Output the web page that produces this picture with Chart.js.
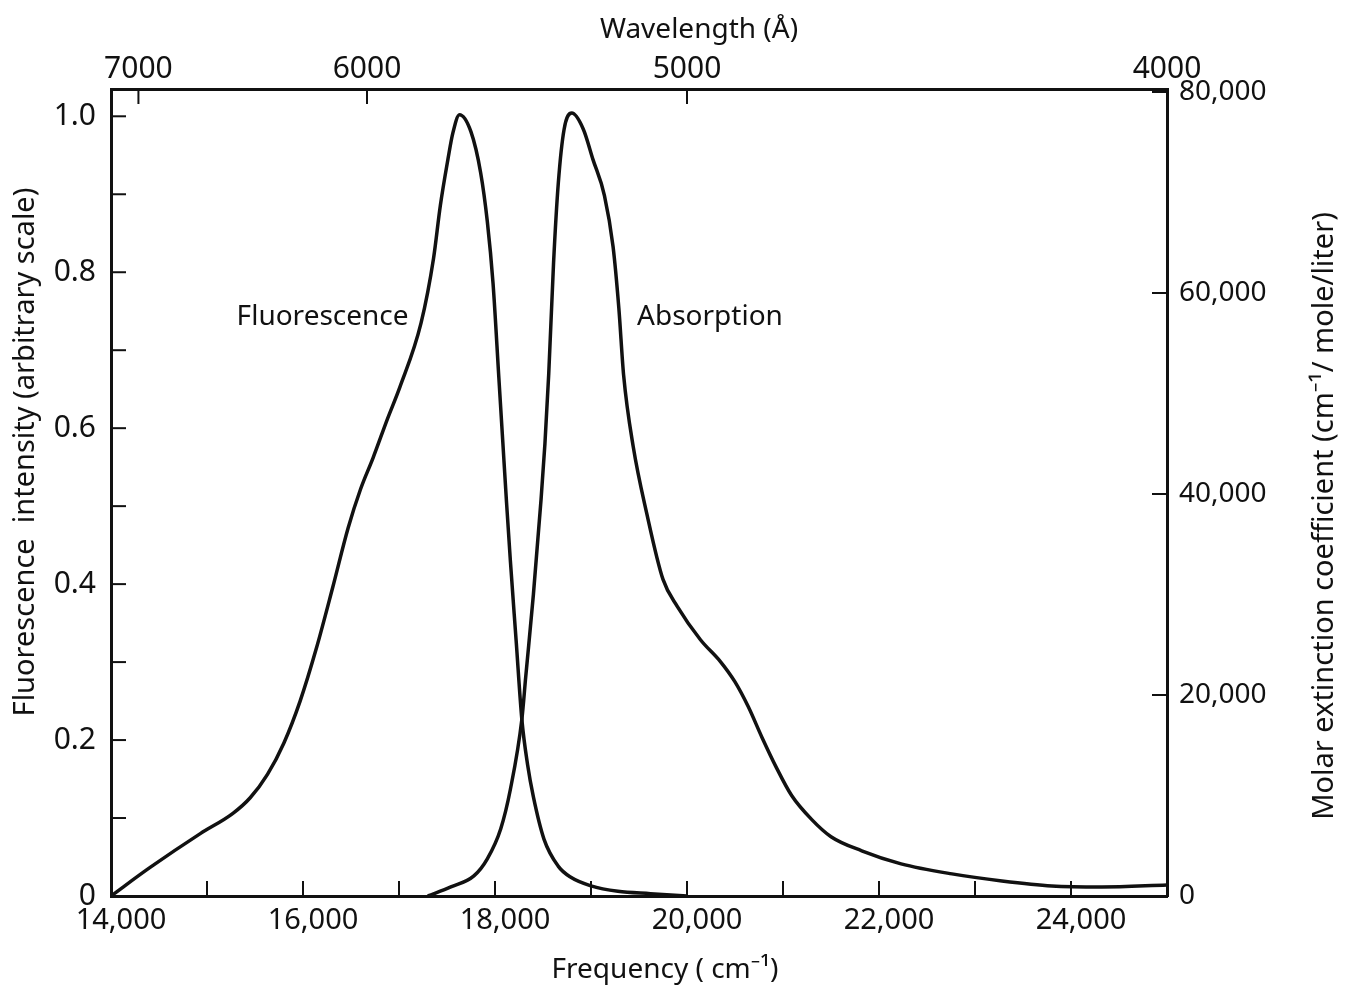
<!DOCTYPE html>
<html>
<head>
<meta charset="utf-8">
<script src="https://cdn.jsdelivr.net/npm/chart.js@4.4.1/dist/chart.umd.min.js"></script>
<style>
  html, body { margin: 0; padding: 0; background: #fff; }
</style>
</head>
<body>
<canvas id="spectraChart" width="1345" height="991"></canvas>
<script>
  // frequency (cm-1) and relative fluorescence intensity
  const fluorFreq = [14000, 14400, 14930, 15270, 15450, 15630, 15800, 15970, 16140, 16310,
    16470, 16600, 16730, 16880, 17010, 17230, 17360, 17430, 17510, 17560,
    17630, 17750, 17850, 17920, 17980, 18040, 18080, 18120, 18160, 18220,
    18280, 18340, 18400, 18510, 18660, 18790, 19000, 19280, 19620, 20000];
  const fluorValues = [0, 0.036, 0.080, 0.106, 0.126, 0.156, 0.196, 0.250, 0.318, 0.396,
    0.472, 0.522, 0.562, 0.612, 0.653, 0.735, 0.818, 0.885, 0.945, 0.978,
    1.002, 0.980, 0.928, 0.865, 0.785, 0.665, 0.585, 0.505, 0.430, 0.328,
    0.226, 0.168, 0.127, 0.073, 0.038, 0.024, 0.013, 0.006, 0.003, 0];

  // frequency (cm-1) and molar extinction coefficient
  const absFreq = [17300, 17540, 17780, 17920, 18060, 18160, 18280, 18320, 18400, 18480,
    18520, 18560, 18610, 18660, 18720, 18800, 18920, 19020, 19140, 19230,
    19290, 19340, 19440, 19580, 19750, 19900, 20140, 20350, 20500, 20640,
    20780, 20930, 21090, 21300, 21500, 21820, 22230, 22760, 23280, 23800, 24320, 25000];
  const absValues = [0, 900, 2000, 3700, 6700, 10600, 17600, 21800, 30000, 39500,
    45000, 52000, 63000, 71000, 76300, 77900, 76300, 73300, 69700, 64600,
    58500, 51800, 44700, 38100, 31500, 28800, 25500, 23300, 21300, 18800,
    15800, 12800, 10000, 7600, 5900, 4500, 3200, 2200, 1500, 1000, 900, 1100];

  const freqTicks = [14000, 15000, 16000, 17000, 18000, 19000, 20000, 21000, 22000, 23000, 24000];
  const wavelengthTicks = [7000, 6000, 5000, 4000];
  const fluorTicks = [0, 0.1, 0.2, 0.3, 0.4, 0.5, 0.6, 0.7, 0.8, 0.9, 1.0];
  const extTicks = [0, 20000, 40000, 60000, 80000];

  const FONT = '"Noto Sans", "DejaVu Sans", sans-serif';
  const INK = '#111';

  const toPoints = (xs, ys) => xs.map((x, i) => ({x: x, y: ys[i]}));

  // ticks in the original point into the plot, so draw them ourselves
  const inwardTicks = {
    id: 'inwardTicks',
    afterDatasetsDraw(chart) {
      const ctx = chart.ctx;
      const len = 15;
      ctx.save();
      ctx.strokeStyle = INK;
      ctx.lineWidth = 2;
      ['x', 'x2', 'y', 'y2'].forEach(id => {
        const s = chart.scales[id];
        s.ticks.forEach(t => {
          const p = s.getPixelForValue(t.value);
          ctx.beginPath();
          if (id === 'x') { ctx.moveTo(p, s.top); ctx.lineTo(p, s.top - len); }
          if (id === 'x2') { ctx.moveTo(p, s.bottom); ctx.lineTo(p, s.bottom + len); }
          if (id === 'y') { ctx.moveTo(s.right, p); ctx.lineTo(s.right + len, p); }
          if (id === 'y2') { ctx.moveTo(s.left, p); ctx.lineTo(s.left - len, p); }
          ctx.stroke();
        });
      });
      ctx.restore();
    }
  };

  // axis titles and curve labels
  const captions = {
    id: 'captions',
    afterDraw(chart) {
      const ctx = chart.ctx;
      const {x, y} = chart.scales;
      ctx.save();
      ctx.fillStyle = INK;
      ctx.textBaseline = 'middle';
      ctx.textAlign = 'center';
      ctx.font = '28px ' + FONT;
      ctx.fillText('Wavelength (Å)', 699, 30);
      ctx.fillText('Frequency ( cm⁻¹)', 665, 970);

      ctx.textAlign = 'right';
      ctx.fillText('Fluorescence', x.getPixelForValue(17100), y.getPixelForValue(0.742));
      ctx.textAlign = 'left';
      ctx.fillText('Absorption', x.getPixelForValue(19480), y.getPixelForValue(0.742));

      ctx.textAlign = 'center';
      ctx.font = '29px ' + FONT;
      ctx.save();
      ctx.translate(26, 452);
      ctx.rotate(-Math.PI / 2);
      ctx.fillText('Fluorescence  intensity (arbitrary scale)', 0, 0);
      ctx.restore();
      ctx.save();
      ctx.translate(1325, 516);
      ctx.rotate(-Math.PI / 2);
      ctx.fillText('Molar extinction coefficient (cm⁻¹/ mole/liter)', 0, 0);
      ctx.restore();
      ctx.restore();
    }
  };

  const border = {display: true, color: INK, width: 3};

  const spectraConfig = {
    type: 'line',
    data: {
      datasets: [{
        label: 'Fluorescence',
        data: toPoints(fluorFreq, fluorValues),
        xAxisID: 'x',
        yAxisID: 'y',
        borderColor: INK,
        borderWidth: 3.5,
        pointRadius: 0,
        cubicInterpolationMode: 'monotone',
        fill: false
      }, {
        label: 'Absorption',
        data: toPoints(absFreq, absValues),
        xAxisID: 'x',
        yAxisID: 'y2',
        borderColor: INK,
        borderWidth: 3.5,
        pointRadius: 0,
        cubicInterpolationMode: 'monotone',
        fill: false
      }]
    },
    options: {
      responsive: false,
      animation: false,
      devicePixelRatio: 1,
      layout: {padding: 0},
      plugins: {
        legend: {display: false},
        title: {display: false},
        tooltip: {enabled: false}
      },
      scales: {
        x: {
          type: 'linear',
          position: 'bottom',
          min: 14000,
          max: 25000,
          afterBuildTicks: s => { s.ticks = freqTicks.map(v => ({value: v})); },
          afterFit: s => { s.height = 95; },
          grid: {drawOnChartArea: false, drawTicks: false},
          border: border,
          ticks: {
            font: {family: FONT, size: 29}, color: INK, padding: 7, labelOffset: 10,
            maxRotation: 0, autoSkip: false,
            callback: v => (v % 2000 === 0 ? v.toLocaleString('en-US') : '')
          }
        },
        x2: {
          type: 'linear',
          position: 'top',
          min: 14000,
          max: 25000,
          afterBuildTicks: s => { s.ticks = wavelengthTicks.map(w => ({value: 1e8 / w})); },
          afterFit: s => { s.height = 89; },
          grid: {drawOnChartArea: false, drawTicks: false},
          border: border,
          ticks: {
            font: {family: FONT, size: 30}, color: INK, padding: 2, maxRotation: 0, autoSkip: false,
            callback: v => String(Math.round(1e8 / v))
          }
        },
        y: {
          type: 'linear',
          position: 'left',
          min: 0,
          max: 1.035,
          afterBuildTicks: s => { s.ticks = fluorTicks.map(v => ({value: v})); },
          afterFit: s => { s.width = 111; },
          grid: {drawOnChartArea: false, drawTicks: false},
          border: border,
          ticks: {
            font: {family: FONT, size: 30}, color: INK, padding: 15, autoSkip: false,
            callback: v => {
              const k = Math.round(v * 10);
              if (k % 2 !== 0) return '';
              return k === 0 ? '0' : (k / 10).toFixed(1);
            }
          }
        },
        y2: {
          type: 'linear',
          position: 'right',
          min: 0,
          max: 80300,
          afterBuildTicks: s => { s.ticks = extTicks.map(v => ({value: v})); },
          afterFit: s => { s.width = 178; },
          grid: {drawOnChartArea: false, drawTicks: false},
          border: border,
          ticks: {
            font: {family: FONT, size: 28}, color: INK, padding: 12, autoSkip: false,
            callback: v => v.toLocaleString('en-US')
          }
        }
      }
    },
    plugins: [inwardTicks, captions]
  };

  const spectraChart = new Chart(
    document.getElementById('spectraChart'),
    spectraConfig
  );
</script>
</body>
</html>
